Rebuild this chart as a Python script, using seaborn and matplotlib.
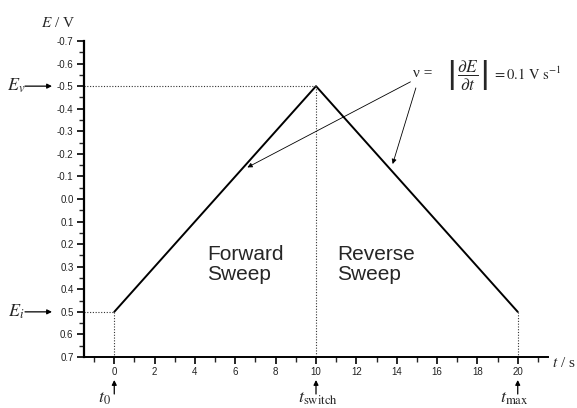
import numpy as np
import pandas as pd
import matplotlib.pyplot as plt
import matplotlib.transforms as mtransforms
from matplotlib.ticker import MultipleLocator, FixedLocator
import seaborn as sns

# triangular potential waveform
time_s = [0, 10, 20]
potential_V = [0.5, -0.5, 0.5]

t_zero, t_switch, t_max = 0, 10, 20
E_v, E_i = -0.5, 0.5

y_ticks = [-0.7, -0.6, -0.5, -0.4, -0.3, -0.2, -0.1, 0.0, 0.1, 0.2, 0.3, 0.4, 0.5, 0.6, 0.7]
x_ticks = [0, 2, 4, 6, 8, 10, 12, 14, 16, 18, 20]

sweep = pd.DataFrame({"t": time_s, "E": potential_V})

sns.set_theme(style="ticks")
plt.rcParams["font.family"] = ["Liberation Sans", "DejaVu Sans"]
plt.rcParams["mathtext.fontset"] = "stix"
plt.rcParams["axes.unicode_minus"] = False

W, H = 577, 408
fig = plt.figure(figsize=(W / 100, H / 100), dpi=100)
ax = fig.add_axes([84 / W, 1 - 357 / H, (548 - 84) / W, (357 - 41) / H])

sns.lineplot(data=sweep, x="t", y="E", color="black", linewidth=1.4, ax=ax)

ax.set_xlim(-1.5, 21.5)
ax.set_ylim(0.7, -0.7)
ax.set_xlabel("")
ax.set_ylabel("")

ax.xaxis.set_major_locator(FixedLocator(x_ticks))
ax.xaxis.set_minor_locator(MultipleLocator(1))
ax.yaxis.set_major_locator(FixedLocator(y_ticks))
ax.yaxis.set_minor_locator(MultipleLocator(0.05))
ax.set_yticklabels([f"{v:.1f}" for v in y_ticks])
ax.set_xticklabels([str(v) for v in x_ticks])

ax.tick_params(which="major", direction="out", length=5, width=1.2, labelsize=7, pad=2.5,
               colors="black", labelcolor="#222222")
ax.tick_params(which="minor", direction="out", length=3.5, width=1.0)
sns.despine(ax=ax)
ax.spines["left"].set_linewidth(1.6)
ax.spines["bottom"].set_linewidth(1.4)
ax.spines["left"].set_color("black")
ax.spines["bottom"].set_color("black")

# dotted guide lines
dot = dict(color="#333333", linewidth=0.8, linestyle=(0, (1, 1.5)))
ax.plot([-1.5, t_switch], [E_v, E_v], **dot)
ax.plot([t_switch, t_switch], [E_v, 0.7], **dot)
ax.plot([-1.5, t_zero], [E_i, E_i], **dot)
ax.plot([t_zero, t_zero], [E_i, 0.7], **dot)
ax.plot([t_max, t_max], [E_i, 0.7], **dot)

serif = ["Liberation Serif", "DejaVu Serif"]

# axis titles
fig.text(58 / W, 1 - 23 / H, r"$E$ / V", family=serif, fontsize=11, ha="center", va="center")
fig.text(564 / W, 1 - 363 / H, r"$t$ / s", family=serif, fontsize=11, ha="center", va="center")

# potential markers on the y axis
ytrans = mtransforms.blended_transform_factory(fig.transFigure, ax.transData)
arrow_kw = dict(arrowstyle="-|>", color="black", lw=0.9, mutation_scale=7, shrinkA=0, shrinkB=0)
for val, lab in [(E_v, r"$E_v$"), (E_i, r"$E_i$")]:
    ax.annotate("", xy=(52 / W, val), xycoords=ytrans, xytext=(25 / W, val), textcoords=ytrans,
                arrowprops=arrow_kw, annotation_clip=False)
    ax.text(16 / W, val, lab, transform=ytrans, fontsize=13, ha="center", va="center")

# time markers below the x axis
xtrans = mtransforms.blended_transform_factory(ax.transData, fig.transFigure)
for val, lab, dx in [(t_zero, r"$t_0$", -0.5), (t_switch, r"$t_{\mathrm{switch}}$", 0.1),
                     (t_max, r"$t_{\mathrm{max}}$", -0.15)]:
    ax.annotate("", xy=(val, 1 - 380 / H), xycoords=xtrans, xytext=(val, 1 - 394 / H), textcoords=xtrans,
                arrowprops=arrow_kw, annotation_clip=False)
    ax.text(val + dx, 1 - 399 / H, lab, transform=xtrans, fontsize=13, ha="center", va="center")

# sweep labels
ax.text(4.6, 0.29, "Forward\nSweep", fontsize=15, ha="left", va="center", linespacing=1.1)
ax.text(11.05, 0.29, "Reverse\nSweep", fontsize=15, ha="left", va="center", linespacing=1.1)

# scan rate annotation
ax.text(14.8, -0.556, "ν =", family=serif, fontsize=11, ha="left", va="center")
ax.text(17.5, -0.548, r"$\left|\,\dfrac{\partial E}{\partial t}\,\right|$", fontsize=12.5,
        ha="center", va="center")
ax.text(18.7, -0.552, r"$= 0.1\ \mathrm{V\ s^{-1}}$", fontsize=10.5, ha="left", va="center")
thin = dict(arrowstyle="-|>", color="black", lw=0.6, mutation_scale=7, shrinkA=0, shrinkB=0)
ax.annotate("", xy=(6.6, -0.14), xytext=(14.68, -0.519), arrowprops=thin)
ax.annotate("", xy=(13.8, -0.155), xytext=(14.95, -0.492), arrowprops=thin)

fig.savefig("out.png", dpi=100)
